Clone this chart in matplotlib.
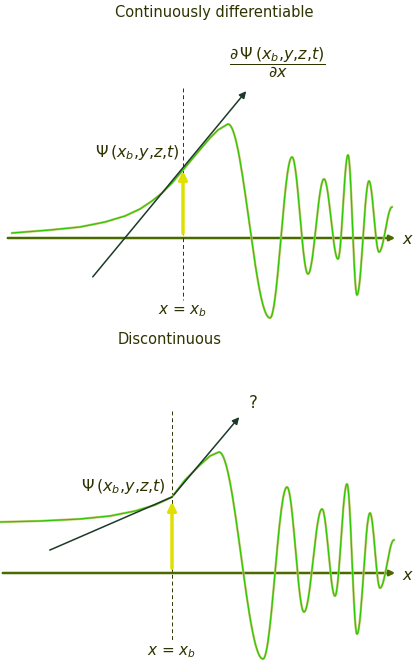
import numpy as np
import matplotlib.pyplot as plt

plt.rcParams['mathtext.fontset'] = 'dejavusans'

# top panel (pixel coords of the picture)
top_rise = [(12, 233), (50, 230), (80, 227), (105, 222), (125, 216), (140, 209), (152, 201),
            (162, 193), (172, 183), (183, 170), (198, 152), (210, 138), (218, 130), (228, 124)]
top_ext = [(228, 124), (270, 318), (292, 157), (308, 274), (324, 179), (338, 259),
           (348, 155), (357, 295), (369, 181), (379, 252), (392, 207)]
top_axis_y = 238
top_tangent = [(91, 279), (248, 89)]
top_xb = 183

# bottom panel
bot_rise = [(0, 522), (40, 521), (80, 519), (110, 516), (135, 511), (155, 505),
            (172, 497), (185, 480), (200, 465), (210, 456), (219, 452)]
bot_ext = [(219, 452), (263, 659), (287, 487), (304, 612), (322, 509), (335, 596),
           (347, 484), (357, 634), (370, 513), (380, 588), (394, 540)]
bot_axis_y = 573
bot_tangent = [(50, 550), (172, 497), (241, 415)]
bot_xb = 172

GREEN = '#2ec800'
EDGE = '#c8c87a'
AXIS = '#4a6a00'
TAN = '#1c3a28'
TXT = '#2e3300'
YEL = '#e0e000'
PSI = r'$\Psi\,(x_b{,}y{,}z{,}t)$'


def wave(rise, ext):
    xs = [p[0] for p in rise]
    ys = [p[1] for p in rise]
    for (x0, y0), (x1, y1) in zip(ext[:-1], ext[1:]):
        t = np.linspace(0, 1, 30)[1:]
        xs += list(x0 + (x1 - x0) * t)
        ys += list(y0 + (y1 - y0) * (1 - np.cos(np.pi * t)) / 2)
    return xs, ys


fig = plt.figure(figsize=(4.19, 6.71), dpi=100)
ax = fig.add_axes([0, 0, 1, 1])
ax.set_xlim(0, 419)
ax.set_ylim(671, 0)
ax.axis('off')


def panel(rise, ext, ay, tangent, xb, xb_top, xb_bot, label_xy, x_label_y, x0axis):
    xs, ys = wave(rise, ext)
    ax.plot(xs, ys, color=EDGE, lw=1.7, zorder=2)
    ax.plot(xs, ys, color=GREEN, lw=0.9, zorder=3)
    ax.annotate('', xy=(398, ay), xytext=(x0axis, ay),
                arrowprops=dict(arrowstyle='-|>', color=AXIS, lw=1.8, mutation_scale=8), zorder=1)
    ax.text(402, ay + 2, '$x$', color=TXT, fontsize=11.5, va='center')
    ax.plot([xb, xb], [xb_top, xb_bot], color=TXT, lw=0.7, ls=(0, (4, 3)), zorder=1)
    tx = [p[0] for p in tangent]
    ty = [p[1] for p in tangent]
    ax.plot(tx[:-1], ty[:-1], color=TAN, lw=1.1, zorder=4)
    ax.annotate('', xy=(tx[-1], ty[-1]), xytext=(tx[-2], ty[-2]),
                arrowprops=dict(arrowstyle='-|>', color=TAN, lw=1.1, mutation_scale=10), zorder=4)
    ax.text(label_xy[0], label_xy[1], PSI, color=TXT, fontsize=11.5, ha='right', va='center')
    ax.text(xb, x_label_y, '$x$ = $x_b$', color=TXT, fontsize=11, ha='center', va='center')


panel(top_rise, top_ext, top_axis_y, top_tangent, top_xb, 88, 300, (180, 153), 311, 5)
ax.annotate('', xy=(top_xb, 168), xytext=(top_xb, 236),
            arrowprops=dict(arrowstyle='-|>', color=YEL, lw=2.5, mutation_scale=12), zorder=5)
ax.text(214, 13, 'Continuously differentiable', color=TXT, fontsize=10.5, ha='center', va='center')
ax.text(277, 63, r'$\dfrac{\partial\,\Psi\,(x_b{,}y{,}z{,}t)}{\partial x}$', color=TXT,
        fontsize=11.5, ha='center', va='center')

panel(bot_rise, bot_ext, bot_axis_y, bot_tangent, bot_xb, 411, 640, (166, 486), 652, 0)
ax.annotate('', xy=(bot_xb, 499), xytext=(bot_xb, 571),
            arrowprops=dict(arrowstyle='-|>', color=YEL, lw=2.5, mutation_scale=12), zorder=5)
ax.text(170, 339, 'Discontinuous', color=TXT, fontsize=10.5, ha='center', va='center')
ax.text(253, 403, '?', color=TXT, fontsize=12, ha='center', va='center')

fig.savefig('out.png', dpi=100, facecolor='white')
